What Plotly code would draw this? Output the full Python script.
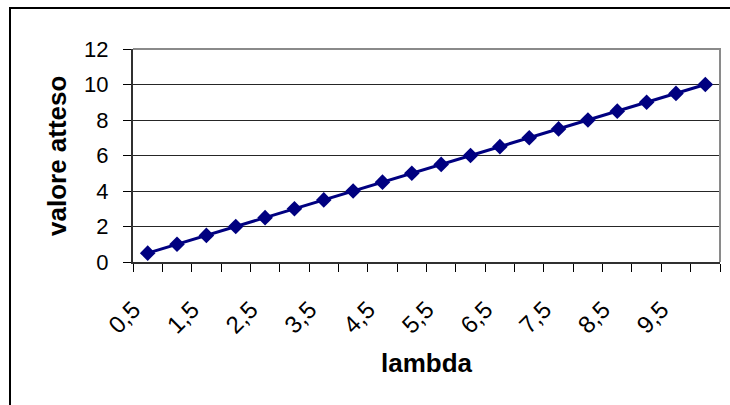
import plotly.graph_objects as go

# Poisson distribution: expected value against lambda
lambda_values = [0.5, 1.0, 1.5, 2.0, 2.5, 3.0, 3.5, 4.0, 4.5, 5.0,
                 5.5, 6.0, 6.5, 7.0, 7.5, 8.0, 8.5, 9.0, 9.5, 10.0]
expected_values = [0.5, 1.0, 1.5, 2.0, 2.5, 3.0, 3.5, 4.0, 4.5, 5.0,
                   5.5, 6.0, 6.5, 7.0, 7.5, 8.0, 8.5, 9.0, 9.5, 10.0]
shown_tick_labels = ["0,5", "1,5", "2,5", "3,5", "4,5",
                     "5,5", "6,5", "7,5", "8,5", "9,5"]
y_tick_values = [0, 2, 4, 6, 8, 10, 12]


def fmt(v):
    s = f"{v:g}"
    return s.replace(".", ",")


categories = [fmt(v) for v in lambda_values]
# trailing non-breaking spaces pull each slanted label back from its tick
PAD = "\u00a0" * 3
tick_text = [c + PAD if c in shown_tick_labels else "" for c in categories]

FONT = "Liberation Sans, Arial, sans-serif"

# plot-area geometry in pixels
W, H = 730, 405
L, R, T, B = 133, 10, 49, 143
pw, ph = W - L - R, H - T - B


def px_x(x):
    return (x - L) / pw


def px_y(y):
    return (H - B - y) / ph


fig = go.Figure()
fig.add_trace(go.Scatter(
    x=categories,
    y=expected_values,
    mode="lines+markers",
    line=dict(color="#000080", width=3),
    marker=dict(symbol="diamond", size=12, color="#000080"),
    showlegend=False,
    cliponaxis=False,
))

fig.update_layout(
    width=W, height=H,
    margin=dict(l=L, r=R, t=T, b=B),
    paper_bgcolor="white",
    plot_bgcolor="white",
    font=dict(family=FONT, color="black", size=21),
    xaxis=dict(
        type="category",
        range=[-0.5, len(categories) - 0.5],
        tickvals=categories,
        ticktext=tick_text,
        tickson="boundaries",
        ticks="outside",
        ticklen=8,
        tickcolor="black",
        tickwidth=1,
        tickangle=-45,
        ticklabelstandoff=8,
        showgrid=False,
        showline=True,
        linecolor="#303030",
        linewidth=2,
        zeroline=False,
        tickfont=dict(size=24),
    ),
    yaxis=dict(
        range=[0, 12],
        tickvals=y_tick_values,
        ticks="outside",
        ticklen=8,
        tickcolor="black",
        tickwidth=1,
        ticklabelstandoff=10,
        showgrid=True,
        gridcolor="#262626",
        gridwidth=1,
        showline=True,
        linecolor="#303030",
        linewidth=2,
        zeroline=False,
        tickfont=dict(size=22),
    ),
    shapes=[
        # plot-area frame, top and right sides
        dict(type="path", xref="paper", yref="paper",
             path="M 0,1 L 1,1 L 1,0",
             line=dict(color="#8a8a8a", width=2), layer="above"),
        # chart-area border
        dict(type="rect", xref="paper", yref="paper",
             x0=px_x(10), x1=px_x(W + 10), y0=px_y(H + 10), y1=px_y(8),
             line=dict(color="black", width=2), layer="above"),
    ],
    annotations=[
        dict(text="<b>valore atteso</b>", textangle=-90,
             xref="paper", yref="paper", x=px_x(57), y=px_y(156),
             xanchor="center", yanchor="middle", showarrow=False,
             font=dict(size=26, family=FONT)),
        dict(text="<b>lambda</b>",
             xref="paper", yref="paper", x=px_x(426.5), y=px_y(362.5),
             xanchor="center", yanchor="middle", showarrow=False,
             font=dict(size=26, family=FONT)),
    ],
)

fig.write_html("out.html")
